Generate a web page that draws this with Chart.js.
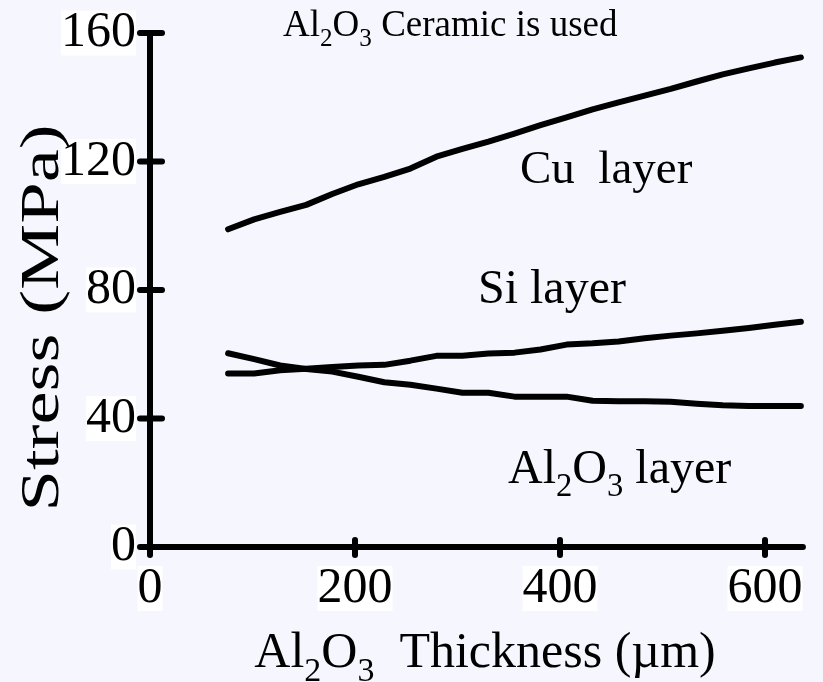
<!DOCTYPE html>
<html>
<head>
<meta charset="utf-8">
<script src="https://cdn.jsdelivr.net/npm/chart.js@4.4.0/dist/chart.umd.min.js"></script>
<style>
  html, body { margin: 0; padding: 0; background: #f6f7fe; }
  #wrap { width: 823px; height: 682px; position: relative; }
</style>
</head>
<body>
<div id="wrap"><canvas id="c" width="823" height="682"></canvas></div>
<script>
// ---- data ----
const thickness = [76.2, 101.6, 127, 152.4, 177.8, 203.2, 228.6, 254, 279.4, 304.8, 330.2, 355.6, 381, 406.4, 431.8, 457.2, 482.6, 508, 533.4, 558.8, 584.2, 609.6, 635];
const cuStress = [98.9, 102.0, 104.3, 106.5, 109.9, 112.9, 115.2, 117.8, 121.5, 123.9, 126.2, 128.7, 131.3, 133.7, 136.2, 138.4, 140.5, 142.6, 144.9, 147.1, 149.0, 150.8, 152.4];
const siStress = [54.0, 54.0, 55.0, 55.5, 56.0, 56.5, 56.7, 58.0, 59.5, 59.5, 60.2, 60.5, 61.5, 63.0, 63.4, 64.0, 65.0, 65.8, 66.5, 67.3, 68.2, 69.2, 70.1];
const alStress = [60.3, 58.5, 56.5, 55.4, 54.6, 53.0, 51.3, 50.5, 49.3, 48.0, 48.0, 46.8, 46.8, 46.8, 45.5, 45.4, 45.4, 45.2, 44.6, 44.1, 43.9, 43.9, 43.9];
const xTicks = [0, 200, 400, 600];
const yTicks = [0, 40, 80, 120, 160];

const FONT = '"Liberation Serif", "Times New Roman", serif';

function pts(ys) { return thickness.map((x, i) => ({ x: x, y: ys[i] })); }

// rich text with subscripts
function drawRich(ctx, parts, x, y, size, align) {
  ctx.save();
  let w = 0;
  parts.forEach(p => {
    ctx.font = (p.sub ? size * 0.68 : size) + 'px ' + FONT;
    w += ctx.measureText(p.t).width;
  });
  let cx = x;
  if (align === 'center') cx = x - w / 2;
  parts.forEach(p => {
    ctx.font = (p.sub ? size * 0.68 : size) + 'px ' + FONT;
    ctx.fillText(p.t, cx, p.sub ? y + size * 0.28 : y);
    cx += ctx.measureText(p.t).width;
  });
  ctx.restore();
}

const axesPlugin = {
  id: 'axesPlugin',
  afterDatasetsDraw(chart) {
    const ctx = chart.ctx;
    const xs = chart.scales.x, ys = chart.scales.y;
    const x0 = xs.getPixelForValue(0), y0 = ys.getPixelForValue(0);
    ctx.save();
    ctx.strokeStyle = '#000';
    ctx.lineWidth = 6;
    ctx.lineCap = 'round';
    // y axis
    ctx.beginPath();
    ctx.moveTo(x0, ys.getPixelForValue(160));
    ctx.lineTo(x0, y0);
    ctx.stroke();
    // x axis
    ctx.beginPath();
    ctx.moveTo(x0 - 8, y0);
    ctx.lineTo(xs.getPixelForValue(637), y0);
    ctx.stroke();
    // y ticks
    yTicks.forEach(v => {
      const py = ys.getPixelForValue(v);
      ctx.beginPath();
      ctx.moveTo(x0 - 10, py);
      ctx.lineTo(x0 + 12, py);
      ctx.stroke();
    });
    // x ticks
    xTicks.forEach(v => {
      const px = xs.getPixelForValue(v);
      ctx.beginPath();
      ctx.moveTo(px, y0 - 7);
      ctx.lineTo(px, y0 + 8);
      ctx.stroke();
    });
    ctx.restore();

    // texts
    ctx.save();
    ctx.fillStyle = '#000';
    ctx.textBaseline = 'alphabetic';
    drawRich(ctx, [{t:'Al'},{t:'2',sub:true},{t:'O'},{t:'3',sub:true},{t:' Ceramic is used'}], 283, 36, 37, 'left');
    drawRich(ctx, [{t:'Cu  layer'}], 520, 183, 47, 'left');
    drawRich(ctx, [{t:'Si layer'}], 478, 303, 48, 'left');
    drawRich(ctx, [{t:'Al'},{t:'2',sub:true},{t:'O'},{t:'3',sub:true},{t:' layer'}], 508, 483, 48, 'left');
    drawRich(ctx, [{t:'Al'},{t:'2',sub:true},{t:'O'},{t:'3',sub:true},{t:'  Thickness (\u00b5m)'}], 485, 667, 50, 'center');
    // y title (slightly stretched along its length as in the reference)
    ctx.save();
    ctx.translate(58, 318);
    ctx.rotate(-Math.PI / 2);
    ctx.scale(1.38, 1);
    drawRich(ctx, [{t:'Stress (MPa)'}], 0, 0, 54, 'center');
    ctx.restore();
    ctx.restore();
  }
};

const lineStyle = {
  borderColor: '#000',
  borderWidth: 6,
  pointRadius: 0,
  tension: 0,
  fill: false,
  borderCapStyle: 'round',
  borderJoinStyle: 'round'
};

new Chart(document.getElementById('c'), {
  type: 'line',
  data: {
    datasets: [
      Object.assign({ label: 'Cu layer', data: pts(cuStress) }, lineStyle),
      Object.assign({ label: 'Si layer', data: pts(siStress) }, lineStyle),
      Object.assign({ label: 'Al2O3 layer', data: pts(alStress) }, lineStyle)
    ]
  },
  options: {
    responsive: false,
    animation: false,
    layout: { padding: { top: 33, right: 17, left: 0, bottom: 0 } },
    plugins: { legend: { display: false }, tooltip: { enabled: false } },
    scales: {
      x: {
        type: 'linear',
        min: 0, max: 640,
        afterBuildTicks(s) { s.ticks = xTicks.map(v => ({ value: v })); },
        afterFit(s) { s.height = 682 - 547; },
        grid: { display: false },
        border: { display: false },
        ticks: {
          color: '#000',
          font: { family: FONT, size: 50, lineHeight: 0.9 },
          padding: 11,
          maxRotation: 0,
          autoSkip: false,
          showLabelBackdrop: true,
          backdropColor: '#ffffff',
          backdropPadding: 0
        }
      },
      y: {
        min: 0, max: 160,
        afterBuildTicks(s) { s.ticks = yTicks.map(v => ({ value: v })); },
        afterFit(s) { s.width = 150; },
        grid: { display: false },
        border: { display: false },
        ticks: {
          color: '#000',
          font: { family: FONT, size: 50, lineHeight: 0.9 },
          padding: 6,
          showLabelBackdrop: true,
          backdropColor: '#ffffff',
          backdropPadding: 0
        }
      }
    }
  },
  plugins: [axesPlugin]
});
</script>
</body>
</html>
